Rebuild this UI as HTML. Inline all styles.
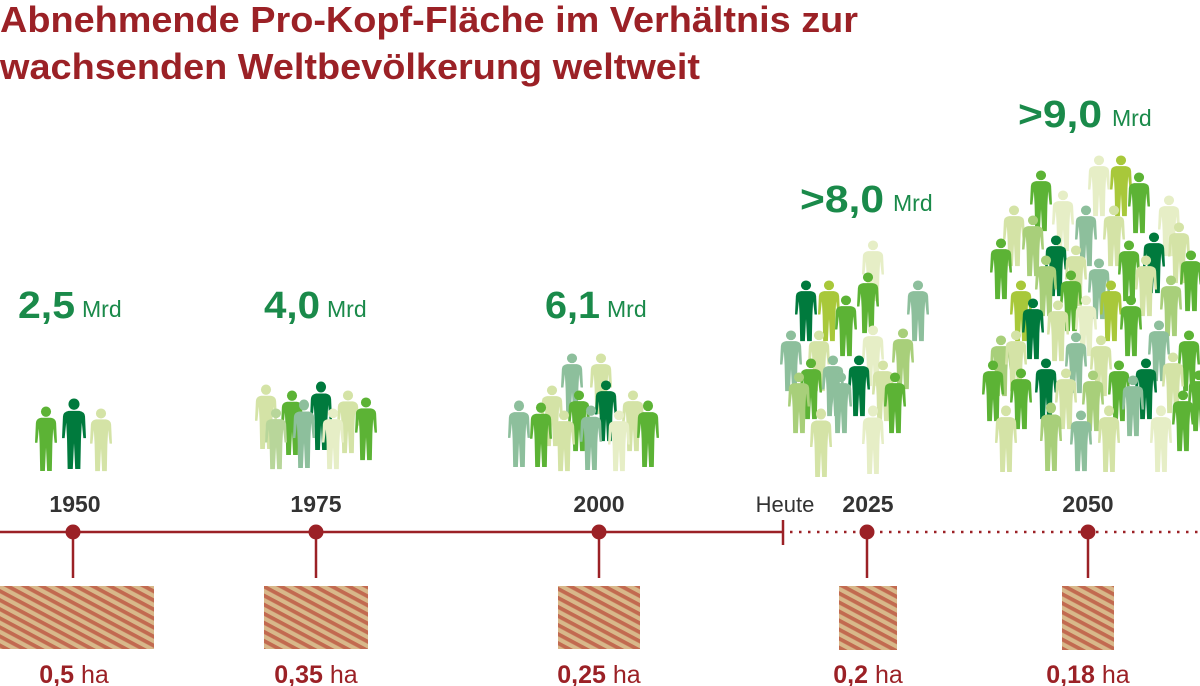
<!DOCTYPE html>
<html><head><meta charset="utf-8"><style>html,body{margin:0;padding:0;background:#fff}svg{display:block}</style></head>
<body>
<svg width="1200" height="686" viewBox="0 0 1200 686" xmlns="http://www.w3.org/2000/svg" font-family="'Liberation Sans', sans-serif">
<defs>
<symbol id="p" viewBox="0 0 20 70" preserveAspectRatio="none">
<ellipse cx="10" cy="6" rx="4.6" ry="5.5"/>
<path d="M5.5,12.5 L14.5,12.5 Q19,13.5 19.2,18 L20,39 L17.8,39 L16.5,24 L15.8,40 L15.3,69 L11,69 L10,44 L9,69 L4.7,69 L4.2,40 L3.5,24 L2.2,39 L0,39 L0.8,18 Q1,13.5 5.5,12.5 Z"/>
</symbol>
<pattern id="soil" width="10" height="8" patternUnits="userSpaceOnUse" patternTransform="rotate(28)">
<rect width="10" height="8" fill="#d8b88a"/>
<rect y="0" width="10" height="3.8" fill="#c26a50"/>
</pattern>
</defs>

<g fill="#9b2126" font-weight="bold" font-size="36">
<text x="0" y="32" textLength="858" lengthAdjust="spacingAndGlyphs">Abnehmende Pro-Kopf-Fläche im Verhältnis zur</text>
<text x="0" y="79" textLength="700" lengthAdjust="spacingAndGlyphs">wachsenden Weltbevölkerung weltweit</text>
</g>

<g fill="#1a8a4a">
<text x="18" y="318" font-size="38" font-weight="bold" textLength="57" lengthAdjust="spacingAndGlyphs">2,5</text><text x="82" y="317" font-size="23">Mrd</text>
<text x="264" y="318" font-size="38" font-weight="bold" textLength="56" lengthAdjust="spacingAndGlyphs">4,0</text><text x="327" y="317" font-size="23">Mrd</text>
<text x="545" y="318" font-size="38" font-weight="bold" textLength="55" lengthAdjust="spacingAndGlyphs">6,1</text><text x="607" y="317" font-size="23">Mrd</text>
<text x="800" y="212" font-size="38" font-weight="bold" textLength="84" lengthAdjust="spacingAndGlyphs">&gt;8,0</text><text x="893" y="211" font-size="23">Mrd</text>
<text x="1018" y="127" font-size="38" font-weight="bold" textLength="84" lengthAdjust="spacingAndGlyphs">&gt;9,0</text><text x="1112" y="126" font-size="23">Mrd</text>
</g>

<!-- 1950 -->
<use href="#p" x="35" y="406" width="22" height="66" fill="#5cb335"/>
<use href="#p" x="62" y="398" width="24" height="72" fill="#007a3d"/>
<use href="#p" x="90" y="408" width="22" height="64" fill="#d4e3a6"/>

<!-- 1975 -->
<use href="#p" x="255" y="384" width="22" height="66" fill="#d4e3a6"/>
<use href="#p" x="281" y="390" width="22" height="66" fill="#5cb335"/>
<use href="#p" x="310" y="381" width="22" height="70" fill="#007a3d"/>
<use href="#p" x="337" y="390" width="22" height="64" fill="#d4e3a6"/>
<use href="#p" x="355" y="397" width="22" height="64" fill="#5cb335"/>
<use href="#p" x="265" y="408" width="22" height="62" fill="#b8d69a"/>
<use href="#p" x="293" y="399" width="22" height="70" fill="#8dbf9c"/>
<use href="#p" x="322" y="408" width="22" height="62" fill="#e6eec6"/>

<!-- 2000 -->
<use href="#p" x="561" y="353" width="22" height="62" fill="#8dbf9c"/>
<use href="#p" x="590" y="353" width="22" height="62" fill="#d4e3a6"/>
<use href="#p" x="541" y="385" width="22" height="62" fill="#d4e3a6"/>
<use href="#p" x="568" y="390" width="22" height="62" fill="#5cb335"/>
<use href="#p" x="595" y="380" width="22" height="62" fill="#007a3d"/>
<use href="#p" x="622" y="390" width="22" height="62" fill="#d4e3a6"/>
<use href="#p" x="508" y="400" width="22" height="68" fill="#8dbf9c"/>
<use href="#p" x="530" y="402" width="22" height="66" fill="#5cb335"/>
<use href="#p" x="553" y="410" width="22" height="62" fill="#d4e3a6"/>
<use href="#p" x="580" y="405" width="22" height="66" fill="#8dbf9c"/>
<use href="#p" x="608" y="410" width="22" height="62" fill="#e6eec6"/>
<use href="#p" x="637" y="400" width="22" height="68" fill="#5cb335"/>

<!-- 2025 -->
<use href="#p" x="862" y="240" width="22" height="62" fill="#e6eec6"/>
<use href="#p" x="795" y="280" width="22" height="62" fill="#007a3d"/>
<use href="#p" x="818" y="280" width="22" height="62" fill="#a8c83a"/>
<use href="#p" x="857" y="272" width="22" height="62" fill="#5cb335"/>
<use href="#p" x="907" y="280" width="22" height="62" fill="#8dbf9c"/>
<use href="#p" x="835" y="295" width="22" height="62" fill="#5cb335"/>
<use href="#p" x="780" y="330" width="22" height="62" fill="#8dbf9c"/>
<use href="#p" x="808" y="330" width="22" height="62" fill="#d4e3a6"/>
<use href="#p" x="862" y="325" width="22" height="62" fill="#e6eec6"/>
<use href="#p" x="892" y="328" width="22" height="62" fill="#a8cf7a"/>
<use href="#p" x="800" y="358" width="22" height="62" fill="#5cb335"/>
<use href="#p" x="822" y="355" width="22" height="62" fill="#8dbf9c"/>
<use href="#p" x="848" y="355" width="22" height="62" fill="#007a3d"/>
<use href="#p" x="872" y="360" width="22" height="62" fill="#d4e3a6"/>
<use href="#p" x="788" y="372" width="22" height="62" fill="#a8cf7a"/>
<use href="#p" x="830" y="372" width="22" height="62" fill="#8dbf9c"/>
<use href="#p" x="884" y="372" width="22" height="62" fill="#5cb335"/>
<use href="#p" x="810" y="408" width="22" height="70" fill="#d4e3a6"/>
<use href="#p" x="862" y="405" width="22" height="70" fill="#e6eec6"/>

<!-- 2050 -->
<g>
<use href="#p" x="1030" y="170" width="22" height="62" fill="#5cb335"/>
<use href="#p" x="1088" y="155" width="22" height="62" fill="#e6eec6"/>
<use href="#p" x="1110" y="155" width="22" height="62" fill="#a8c83a"/>
<use href="#p" x="1128" y="172" width="22" height="62" fill="#5cb335"/>
<use href="#p" x="1052" y="190" width="22" height="62" fill="#e6eec6"/>
<use href="#p" x="1158" y="195" width="22" height="62" fill="#e6eec6"/>
<use href="#p" x="1003" y="205" width="22" height="62" fill="#d4e3a6"/>
<use href="#p" x="1075" y="205" width="22" height="62" fill="#8dbf9c"/>
<use href="#p" x="1103" y="205" width="22" height="62" fill="#d4e3a6"/>
<use href="#p" x="1022" y="215" width="22" height="62" fill="#a8cf7a"/>
<use href="#p" x="1143" y="232" width="22" height="62" fill="#007a3d"/>
<use href="#p" x="1168" y="222" width="22" height="62" fill="#d4e3a6"/>
<use href="#p" x="990" y="238" width="22" height="62" fill="#5cb335"/>
<use href="#p" x="1045" y="235" width="22" height="62" fill="#007a3d"/>
<use href="#p" x="1065" y="245" width="22" height="62" fill="#d4e3a6"/>
<use href="#p" x="1118" y="240" width="22" height="62" fill="#5cb335"/>
<use href="#p" x="1180" y="250" width="22" height="62" fill="#5cb335"/>
<use href="#p" x="1035" y="255" width="22" height="62" fill="#a8cf7a"/>
<use href="#p" x="1088" y="258" width="22" height="62" fill="#8dbf9c"/>
<use href="#p" x="1135" y="255" width="22" height="62" fill="#d4e3a6"/>
<use href="#p" x="1010" y="280" width="22" height="62" fill="#a8c83a"/>
<use href="#p" x="1060" y="270" width="22" height="62" fill="#5cb335"/>
<use href="#p" x="1100" y="280" width="22" height="62" fill="#a8c83a"/>
<use href="#p" x="1160" y="275" width="22" height="62" fill="#a8cf7a"/>
<use href="#p" x="1022" y="298" width="22" height="62" fill="#007a3d"/>
<use href="#p" x="1047" y="300" width="22" height="62" fill="#d4e3a6"/>
<use href="#p" x="1075" y="295" width="22" height="62" fill="#e6eec6"/>
<use href="#p" x="1120" y="295" width="22" height="62" fill="#5cb335"/>
<use href="#p" x="1148" y="320" width="22" height="62" fill="#8dbf9c"/>
<use href="#p" x="990" y="335" width="22" height="62" fill="#a8cf7a"/>
<use href="#p" x="1005" y="330" width="22" height="62" fill="#d4e3a6"/>
<use href="#p" x="1065" y="332" width="22" height="62" fill="#8dbf9c"/>
<use href="#p" x="1090" y="335" width="22" height="62" fill="#d4e3a6"/>
<use href="#p" x="1178" y="330" width="22" height="62" fill="#5cb335"/>
<use href="#p" x="982" y="360" width="22" height="62" fill="#5cb335"/>
<use href="#p" x="1035" y="358" width="22" height="62" fill="#007a3d"/>
<use href="#p" x="1108" y="360" width="22" height="62" fill="#5cb335"/>
<use href="#p" x="1135" y="358" width="22" height="62" fill="#007a3d"/>
<use href="#p" x="1162" y="352" width="22" height="62" fill="#d4e3a6"/>
<use href="#p" x="1010" y="368" width="22" height="62" fill="#5cb335"/>
<use href="#p" x="1055" y="368" width="22" height="62" fill="#d4e3a6"/>
<use href="#p" x="1082" y="370" width="22" height="62" fill="#a8cf7a"/>
<use href="#p" x="1122" y="375" width="22" height="62" fill="#8dbf9c"/>
<use href="#p" x="1188" y="370" width="22" height="62" fill="#5cb335"/>
<use href="#p" x="995" y="405" width="22" height="68" fill="#d4e3a6"/>
<use href="#p" x="1040" y="402" width="22" height="70" fill="#a8cf7a"/>
<use href="#p" x="1098" y="405" width="22" height="68" fill="#d4e3a6"/>
<use href="#p" x="1150" y="405" width="22" height="68" fill="#e6eec6"/>
<use href="#p" x="1070" y="410" width="22" height="62" fill="#8dbf9c"/>
<use href="#p" x="1172" y="390" width="22" height="62" fill="#5cb335"/>
</g>

<!-- years -->
<g fill="#333" font-size="23" font-weight="bold" text-anchor="middle">
<text x="75" y="512">1950</text>
<text x="316" y="512">1975</text>
<text x="599" y="512">2000</text>
<text x="868" y="512">2025</text>
<text x="1088" y="512">2050</text>
</g>
<text x="785" y="512" fill="#333" font-size="22" text-anchor="middle">Heute</text>

<!-- timeline -->
<g stroke="#9b2126" stroke-width="2.5">
<line x1="0" y1="532" x2="783" y2="532"/>
<line x1="783" y1="520" x2="783" y2="545"/>
<line x1="790" y1="532" x2="1200" y2="532" stroke-dasharray="2.5 6.5"/>
<line x1="73" y1="532" x2="73" y2="578"/>
<line x1="316" y1="532" x2="316" y2="578"/>
<line x1="599" y1="532" x2="599" y2="578"/>
<line x1="867" y1="532" x2="867" y2="578"/>
<line x1="1088" y1="532" x2="1088" y2="578"/>
</g>
<g fill="#9b2126">
<circle cx="73" cy="532" r="7.5"/><circle cx="316" cy="532" r="7.5"/><circle cx="599" cy="532" r="7.5"/><circle cx="867" cy="532" r="7.5"/><circle cx="1088" cy="532" r="7.5"/>
</g>

<!-- soil -->
<rect x="0" y="586" width="154" height="63" fill="url(#soil)"/>
<rect x="264" y="586" width="104" height="63" fill="url(#soil)"/>
<rect x="558" y="586" width="82" height="63" fill="url(#soil)"/>
<rect x="839" y="586" width="58" height="64" fill="url(#soil)"/>
<rect x="1062" y="586" width="52" height="64" fill="url(#soil)"/>

<g fill="#9b2126" font-size="25" text-anchor="middle">
<text x="74" y="683"><tspan font-weight="bold">0,5</tspan> ha</text>
<text x="316" y="683"><tspan font-weight="bold">0,35</tspan> ha</text>
<text x="599" y="683"><tspan font-weight="bold">0,25</tspan> ha</text>
<text x="868" y="683"><tspan font-weight="bold">0,2</tspan> ha</text>
<text x="1088" y="683"><tspan font-weight="bold">0,18</tspan> ha</text>
</g>
</svg>
</body></html>
